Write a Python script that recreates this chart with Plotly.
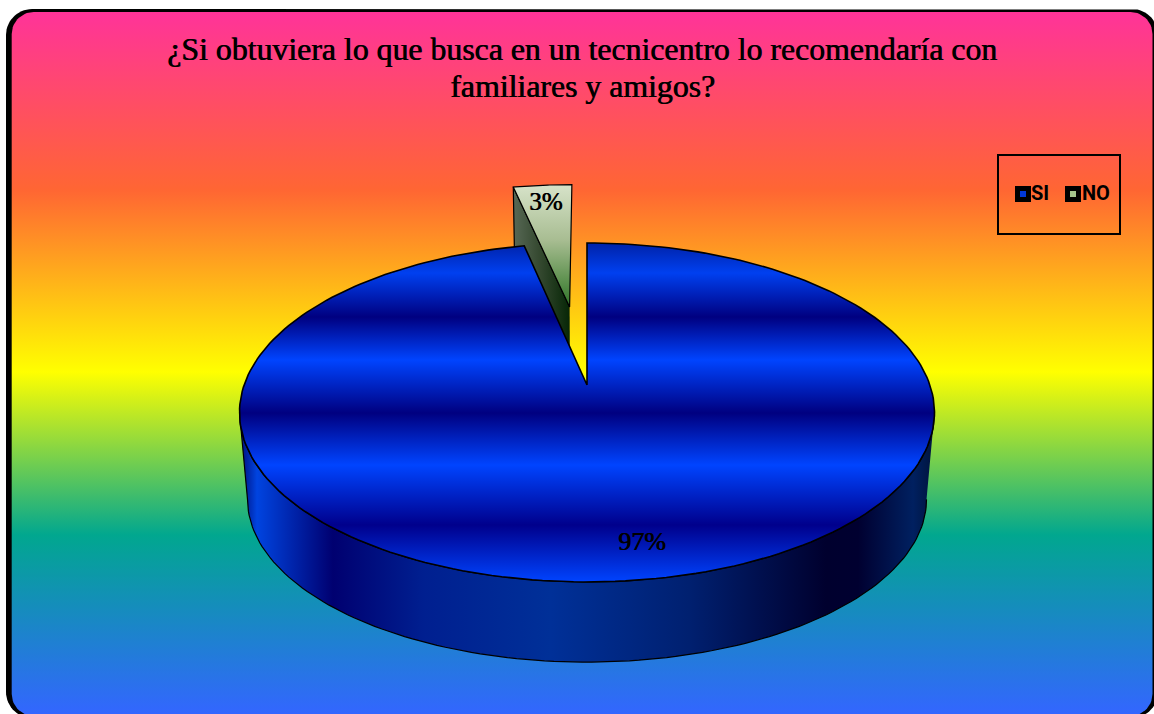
import numpy as np
import plotly.graph_objects as go

categories = ["SI", "NO"]
percentages = [96.6, 3.4]
title_lines = ["¿Si obtuviera lo que busca en un tecnicentro lo recomendaría con", "familiares y amigos?"]

W, H = 1154, 714
# perspective of the pie, in pixels
CX = 587
K = 0.1622
TOP = dict(tip=385, a=342.9, b=165.0)
BOTTOM = dict(tip=473, a=335.0, b=158.4)
EXPLODE = 0.515

BG_STOPS = [(12, "#ff3399"), (190, "#ff6633"), (372, "#ffff00"), (535, "#01a78f"), (714, "#3366ff")]
FACE_STOPS = [(243, "#0022a8"), (273, "#0040f0"), (317, "#000080"), (360, "#0044ff"),
              (413, "#000080"), (465, "#0044ff"), (525, "#00008c"), (582, "#0044ff")]
WALL_STOPS = [(244, "#001a90"), (257, "#0044e0"), (333, "#000070"), (423, "#001f90"), (551, "#003098"),
              (689, "#002070"), (826, "#00002e"), (858, "#000030"), (913, "#002060"), (932, "#001540")]
NO_FACE_STOPS = [(186, "#d6e2c8"), (240, "#a8bd92"), (280, "#5f9250"), (307, "#2f7428")]
NO_SIDE_STOPS = [(510, "#5c6c5a"), (540, "#34482f"), (570, "#062606")]


def project(u, v, level):
    w = 1 + K * v
    return CX + level["a"] * u / w, level["tip"] - level["b"] * v / w


def rounded_rect(x0, y0, x1, y1, r):
    t = np.linspace(0, np.pi / 2, 16)
    xs = np.concatenate([x0 + r - r * np.cos(t), x1 - r + r * np.sin(t), x1 - r + r * np.cos(t), x0 + r - r * np.sin(t)])
    ys = np.concatenate([y0 + r - r * np.sin(t), y0 + r - r * np.cos(t), y1 - r + r * np.sin(t), y1 - r + r * np.cos(t)])
    return np.append(xs, xs[0]), np.append(ys, ys[0])


def gradient(stops, kind):
    lo, hi = stops[0][0], stops[-1][0]
    scale = [[(p - lo) / (hi - lo), c] for p, c in stops]
    return dict(type=kind, colorscale=scale, start=lo, stop=hi)


def poly(xs, ys, fillgradient=None, fillcolor=None, line_width=1.2):
    return go.Scatter(x=xs, y=ys, mode="lines", fill="toself", fillcolor=fillcolor, fillgradient=fillgradient,
                      line=dict(color="black", width=line_width), hoverinfo="skip", showlegend=False)


sweep = 2 * np.pi * percentages[0] / sum(percentages)
fig = go.Figure()

# frame
fx, fy = rounded_rect(6, 9, 1158, 718, 26)
fig.add_trace(poly(fx, fy, fillcolor="black", line_width=0))
fx, fy = rounded_rect(11.7, 12, 1152.5, 716, 22)
fig.add_trace(poly(fx, fy, fillgradient=gradient(BG_STOPS, "vertical"), line_width=0))

# NO slice, pulled away along its middle angle
mid = sweep + (2 * np.pi - sweep) / 2
ex, ey = EXPLODE * np.sin(mid), EXPLODE * np.cos(mid)
theta = np.linspace(sweep, 2 * np.pi, 30)
u = np.concatenate([[ex], ex + np.sin(theta), [ex]])
v = np.concatenate([[ey], ey + np.cos(theta), [ey]])
x1, y1 = project(u[:2], v[:2], TOP)
x2, y2 = project(u[:2][::-1], v[:2][::-1], BOTTOM)
fig.add_trace(poly(np.append(x1, x2), np.append(y1, y2), fillgradient=gradient(NO_SIDE_STOPS, "horizontal")))
xs, ys = project(u, v, TOP)
fig.add_trace(poly(xs, ys, fillgradient=gradient(NO_FACE_STOPS, "vertical")))

# SI slice: wall first, then the top face
edge = np.arccos(-K)
front = np.linspace(edge, 2 * np.pi - edge, 120)
x1, y1 = project(np.sin(front), np.cos(front), TOP)
x2, y2 = project(np.sin(front)[::-1], np.cos(front)[::-1], BOTTOM)
fig.add_trace(poly(np.append(x1, x2), np.append(y1, y2), fillgradient=gradient(WALL_STOPS, "horizontal")))

theta = np.linspace(0, sweep, 240)
xs, ys = project(np.concatenate([[0], np.sin(theta), [0]]), np.concatenate([[0], np.cos(theta), [0]]), TOP)
fig.add_trace(poly(xs, ys, fillgradient=gradient(FACE_STOPS, "vertical"), line_width=1.6))

# legend
fig.add_shape(type="rect", x0=998, x1=1120, y0=155, y1=234, line=dict(color="black", width=2))
fig.add_trace(go.Scatter(x=[1023, 1073], y=[194, 194], mode="markers",
                         marker=dict(symbol="square", size=11, color=["#0038d8", "#a4c48c"],
                                     line=dict(color="black", width=5)),
                         hoverinfo="skip", showlegend=False))
fig.add_trace(go.Scatter(x=[1031, 1082], y=[195, 195], mode="text", text=categories, textposition="middle right",
                         textfont=dict(family="Roboto", size=20, color="black", weight="bold"),
                         hoverinfo="skip", showlegend=False))

labels = [f"{round(p)}%" for p in percentages]
serif = dict(family="Liberation Serif", color="black", shadow="0.7px 0 0 black")
fig.add_annotation(x=642, y=541, text=labels[0], showarrow=False, font=dict(size=26, **serif))
fig.add_annotation(x=545, y=201, text=labels[1], showarrow=False, font=dict(size=25, **serif))
# title lines sit closer than plotly's line height, so each gets its own annotation
for line, y in zip(title_lines, [49, 86]):
    fig.add_annotation(x=582, y=y, text=line, showarrow=False, font=dict(size=31.8, **serif))

fig.update_layout(
    width=W, height=H, margin=dict(l=0, r=0, t=0, b=0),
    paper_bgcolor="white", plot_bgcolor="rgba(0,0,0,0)",
    xaxis=dict(range=[0, W], visible=False, fixedrange=True),
    yaxis=dict(range=[H, 0], visible=False, fixedrange=True),
)
fig.write_html("out.html", config=dict(displayModeBar=False), post_script="document.body.style.margin='0';")
